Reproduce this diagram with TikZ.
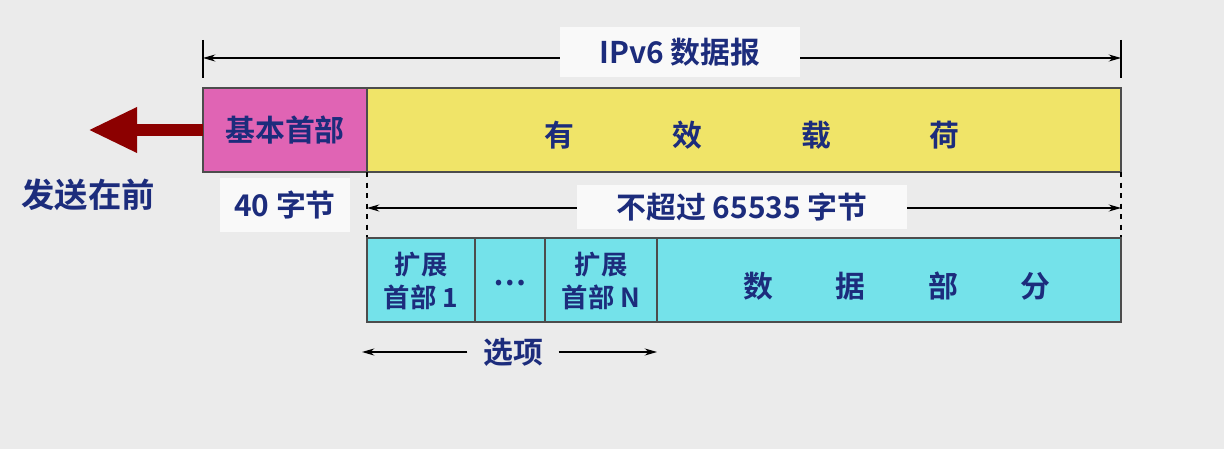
\documentclass[tikz,border=0pt]{standalone}
\usepackage{fontspec}
\setmainfont{Noto Sans CJK SC}[BoldFont={Noto Sans CJK SC Bold}]
\usetikzlibrary{arrows.meta}
\definecolor{txtblue}{HTML}{1C2C7C}
\definecolor{hdrpink}{HTML}{E064B4}
\definecolor{loadyel}{HTML}{F0E468}
\definecolor{extcyan}{HTML}{74E2EA}
\definecolor{bggray}{HTML}{EBEBEB}
\tikzset{
  lbl/.style={font=\bfseries\fontsize{17pt}{20pt}\selectfont, text=txtblue, inner sep=2pt},
  lblbox/.style={lbl, fill=white!70!bggray},
  cell/.style={draw=black!70, line width=0.8pt},
  dimline/.style={-{Stealth[length=7pt,width=4pt]}, line width=0.7pt},
}
\begin{document}
\begin{tikzpicture}[x=0.02cm,y=-0.02cm]
\fill[bggray] (0,0) rectangle (1224,449);
% top dimension
\draw[line width=0.7pt] (203,40) -- (203,78);
\draw[line width=0.7pt] (1121,40) -- (1121,78);
\coordinate (tl) at (203,58);
\coordinate (tr) at (1121,58);
\draw[dimline] (672,58) -- (tl);
\draw[dimline] (672,58) -- (tr);
\node[lblbox, minimum width=4.8cm, minimum height=1cm] (dgram) at (680,52) {IPv6 数据报};
% main bar
\draw[cell, fill=hdrpink] (203,88) rectangle (367,172);
\node[lbl] (hdr) at (285,130) {基本首部};
\draw[cell, fill=loadyel] (367,88) rectangle (1121,172);
\node[lbl] (load) at (752,135) {有\hspace{3.3em}效\hspace{3.3em}载\hspace{3.3em}荷};
% send arrow
\coordinate (sendtip) at (88,130);
\draw[-{Triangle[length=28pt,width=24pt]}, line width=7pt, draw=red!55!black] (203,130) -- (sendtip);
\node[lbl, font=\bfseries\fontsize{19pt}{22pt}\selectfont] (first) at (88,195) {发送在前};
\node[lblbox, minimum width=2.6cm, minimum height=1.1cm] (hlen) at (285,205) {40 字节};
% second dimension
\draw[dashed, line width=0.7pt] (367,172) -- (367,240);
\draw[dashed, line width=0.7pt] (1121,172) -- (1121,240);
\coordinate (bl) at (367,208);
\coordinate (br) at (1121,208);
\draw[dimline] (744,208) -- (bl);
\draw[dimline] (744,208) -- (br);
\node[lblbox, minimum width=6.6cm, minimum height=0.9cm] (plen) at (742,207) {不超过 65535 字节};
% lower row
\draw[cell, fill=extcyan] (367,238) rectangle (1121,322);
\draw[cell] (475,238) -- (475,322);
\draw[cell] (545,238) -- (545,322);
\draw[cell] (657,238) -- (657,322);
\node[lbl, align=center, font=\bfseries\fontsize{15pt}{19pt}\selectfont] (ext1) at (421,281) {扩展\\首部 1};
\node[lbl] (dots) at (510,283) {…};
\node[lbl, align=center, font=\bfseries\fontsize{15pt}{19pt}\selectfont] (extn) at (601,281) {扩展\\首部 N};
\node[lbl] (data) at (897,286) {数\hspace{2.1em}据\hspace{2.1em}部\hspace{2.1em}分};
% options
\node[lbl] (opt) at (513,352) {选项};
\coordinate (ol) at (362,352);
\coordinate (or) at (657,352);
\draw[dimline] (opt.west) ++(-12,0) -- (ol);
\draw[dimline] (opt.east) ++(12,0) -- (or);
\end{tikzpicture}
\end{document}
